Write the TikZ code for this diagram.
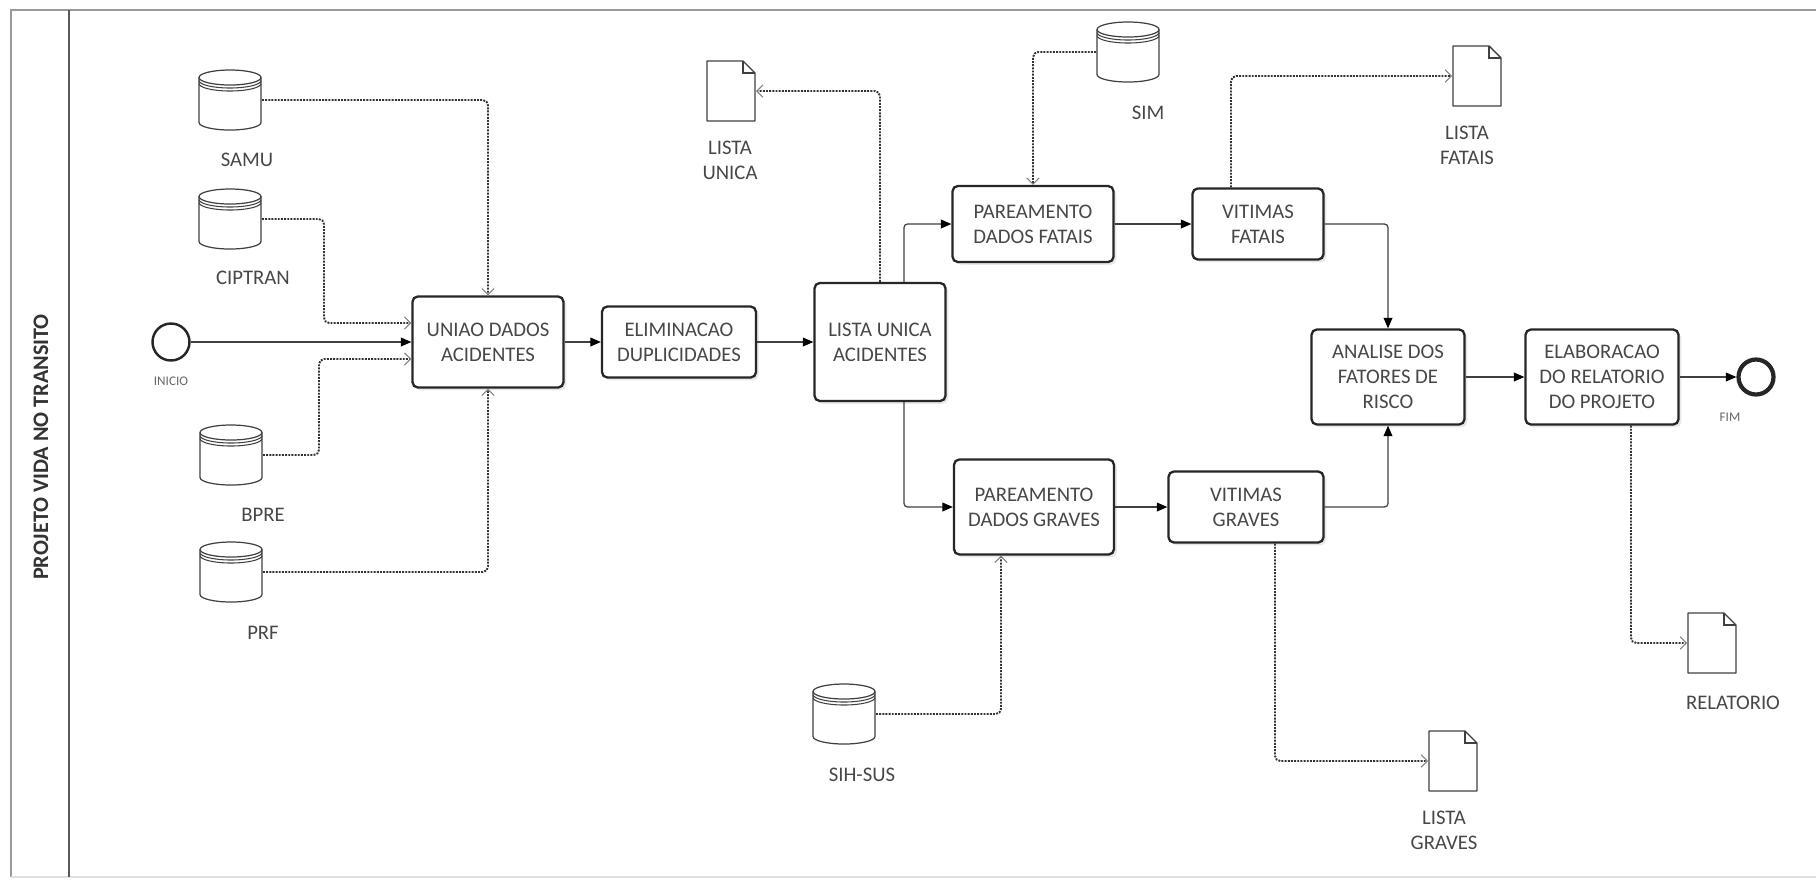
\documentclass[tikz,border=0pt]{standalone}
\usepackage{fontspec}
\setmainfont{Carlito}
\usetikzlibrary{arrows.meta,calc,shadows}

\begin{document}
\begin{tikzpicture}[x=0.02cm, y=-0.02cm,
  every node/.style={font=\fontsize{11.8}{14.2}\selectfont, text=black!72},
  task/.style={draw=black!85, line width=1.3pt, rounded corners=3pt, fill=white, align=center, inner sep=2pt,
    drop shadow={shadow xshift=1.6pt, shadow yshift=-1.6pt, opacity=0.18}},
  event/.style={circle, draw=black!85, fill=white, minimum size=0.74cm, inner sep=0pt},
  small/.style={font=\fontsize{7.5}{9}\selectfont, text=black!60},
  lbl/.style={align=center},
  db/.style={minimum width=1.28cm, minimum height=1.24cm, inner sep=0pt, outer sep=0pt,
    path picture={
      \coordinate (nw) at (path picture bounding box.north west);
      \draw[black!75, line width=0.7pt] ($(nw)+(1,8.5)$) -- ($(nw)+(1,53.5)$)
        arc[start angle=180, end angle=0, x radius=31, y radius=7.5] -- ($(nw)+(63,8.5)$);
      \draw[black!75, line width=0.7pt] ($(nw)+(32,8.5)$) ellipse[x radius=31, y radius=7.5];
      \draw[black!75, line width=0.6pt] ($(nw)+(1,11.5)$) arc[start angle=180, end angle=0, x radius=31, y radius=7.5];
      \draw[black!75, line width=0.6pt] ($(nw)+(1,14.5)$) arc[start angle=180, end angle=0, x radius=31, y radius=7.5];
    }},
  doc/.style={minimum width=1.0cm, minimum height=1.24cm, inner sep=0pt, outer sep=0pt,
    path picture={
      \coordinate (nw) at (path picture bounding box.north west);
      \draw[black!75, line width=0.8pt, line join=round] ($(nw)+(1,1)$) -- ($(nw)+(37,1)$) -- ($(nw)+(49,13)$)
        -- ($(nw)+(49,61)$) -- ($(nw)+(1,61)$) -- cycle;
      \draw[black!75, line width=0.6pt] ($(nw)+(37,1)$) -- ($(nw)+(37,13)$) -- ($(nw)+(49,13)$);
    }},
  flow/.style={draw=black!75, line width=0.7pt, rounded corners=2pt, -{Triangle[length=6pt, width=5pt, color=black]}},
  data/.style={draw=black!80, line width=1.1pt, dash pattern=on 1.1pt off 0.7pt, rounded corners=3pt,
    -{Straight Barb[length=3.5pt, width=7pt, line width=0.6pt, color=black!50]}}
]

% Processo do projeto vida no transito (raia unica)
\useasboundingbox (0,0) rectangle (1816,880);
\draw[black!40, line width=1.2pt] (1816,10) -- (11,10) -- (11,877);
\draw[black!12, line width=1pt] (11,877) -- (1816,877);
\draw[black!65, line width=1pt] (69,10) -- (69,877);
\node[font=\fontsize{12.6}{15}\selectfont\bfseries, rotate=90, text=black!80] (lane) at (41,447) {PROJETO VIDA NO TRANSITO};

\node[event, line width=1.4pt] (inicio) at (171,342) {};
\node[small] (inicioL) at (171,381) {INICIO};
\node[event, line width=2.4pt, minimum size=0.7cm] (fim) at (1756,377) {};
\node[small] (fimL) at (1730,417) {FIM};

\node[db] (samu) at (230,100) {};
\node[db] (ciptran) at (230,219) {};
\node[db] (bpre) at (231,455) {};
\node[db] (prf) at (231,572) {};
\node[db] (sim) at (1128,52) {};
\node[db] (sihsus) at (844,714) {};
\node[lbl] (samuL) at (247,160) {SAMU};
\node[lbl] (ciptranL) at (253,278) {CIPTRAN};
\node[lbl] (bpreL) at (263,515) {BPRE};
\node[lbl] (prfL) at (263,633) {PRF};
\node[lbl] (simL) at (1148,113) {SIM};
\node[lbl] (sihsusL) at (862,775) {SIH-SUS};

\node[doc] (unica) at (731,91) {};
\node[doc] (fatais) at (1477,76) {};
\node[doc] (graves) at (1453,761) {};
\node[doc] (relatorio) at (1712,643) {};
\node[lbl] (unicaL) at (730,160) {LISTA\\UNICA};
\node[lbl] (fataisL) at (1467,145) {LISTA\\FATAIS};
\node[lbl] (gravesL) at (1444,830) {LISTA\\GRAVES};
\node[lbl] (relatorioL) at (1733,703) {RELATORIO};

\node[task, minimum width=3.02cm, minimum height=1.82cm] (uniao) at (488,342) {UNIAO DADOS\\ACIDENTES};
\node[task, minimum width=3.08cm, minimum height=1.42cm] (elim) at (679,342) {ELIMINACAO\\DUPLICIDADES};
\node[task, minimum width=2.62cm, minimum height=2.36cm] (lua) at (880,342) {LISTA UNICA\\ACIDENTES};
\node[task, minimum width=3.22cm, minimum height=1.52cm] (pf) at (1033,224) {PAREAMENTO\\DADOS FATAIS};
\node[task, minimum width=2.62cm, minimum height=1.42cm] (vf) at (1258,224) {VITIMAS\\FATAIS};
\node[task, minimum width=3.2cm, minimum height=1.9cm] (pg) at (1034,507) {PAREAMENTO\\DADOS GRAVES};
\node[task, minimum width=3.1cm, minimum height=1.42cm] (vg) at (1246,507) {VITIMAS\\GRAVES};
\node[task, minimum width=3.06cm, minimum height=1.9cm] (analise) at (1388,377) {ANALISE DOS\\FATORES DE\\RISCO};
\node[task, minimum width=3.06cm, minimum height=1.9cm] (elab) at (1602,377) {ELABORACAO\\DO RELATORIO\\DO PROJETO};

\draw[flow] (inicio) -- (uniao);
\draw[flow] (uniao) -- (elim);
\draw[flow] (elim) -- (lua);
\draw[flow] ($(lua.north)+(24,0)$) |- (pf.west);
\draw[flow] ($(lua.south)+(24,0)$) |- (pg.west);
\draw[flow] (pf) -- (vf);
\draw[flow] (pg) -- (vg);
\draw[flow] (vf.east) -| (analise.north);
\draw[flow] (vg.east) -| (analise.south);
\draw[flow] (analise) -- (elab);
\draw[flow] (elab) -- (fim);

\draw[data] (samu.east) -| (uniao.north);
\draw[data] (ciptran.east) -- ++(62,0) |- ($(uniao.west)+(0,-19)$);
\draw[data] (bpre.east) -- ++(56,0) |- ($(uniao.west)+(0,17)$);
\draw[data] (prf.east) -| (uniao.south);
\draw[data] (lua.north) |- (unica.east);
\draw[data] (sim.west) -| (pf.north);
\draw[data] ($(vf.north)+(-27,0)$) |- (fatais.west);
\draw[data] (sihsus.east) -| ($(pg.south)+(-33,0)$);
\draw[data] ($(vg.south)+(29,0)$) |- (graves.west);
\draw[data] ($(elab.south)+(29,0)$) |- (relatorio.west);

\end{tikzpicture}
\end{document}
